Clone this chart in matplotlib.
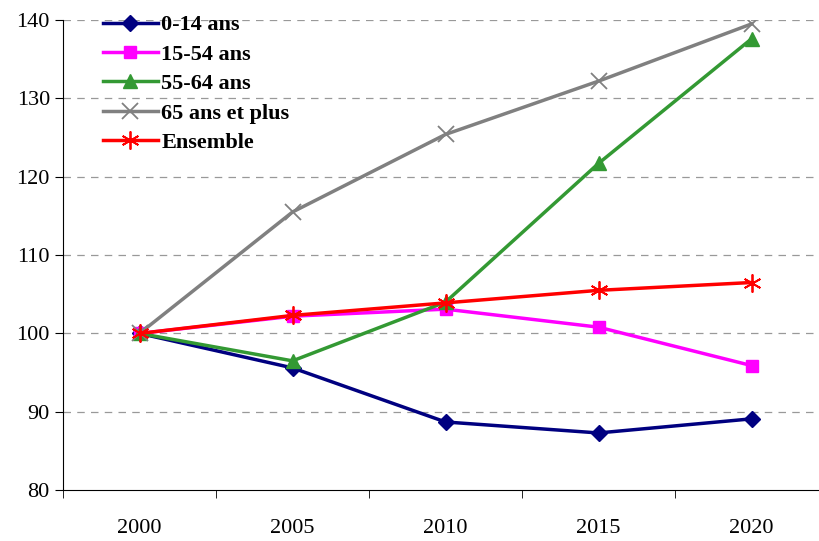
import numpy as np
import matplotlib.pyplot as plt

# Data
years = ['2000', '2005', '2010', '2015', '2020']
age_0_14 = [100, 95.6, 88.7, 87.3, 89.1]
age_15_54 = [100, 102.2, 103.1, 100.8, 95.9]
age_55_64 = [100, 96.5, 104.0, 121.7, 137.6]
age_65_plus = [100, 115.5, 125.4, 132.2, 139.5]
ensemble = [100, 102.3, 103.9, 105.5, 106.5]

plt.rcParams['font.family'] = ['Liberation Serif', 'DejaVu Serif']

fig = plt.figure(figsize=(8.19, 5.41), dpi=100)
ax = fig.add_axes([0.077, 0.094, 0.934, 0.869])

x = np.arange(len(years))
ax.plot(x, age_0_14, color='#000080', lw=2.5, marker='D', ms=8, label='0-14 ans')
ax.plot(x, age_15_54, color='#FF00FF', lw=2.5, marker='s', ms=9, label='15-54 ans')
ax.plot(x, age_55_64, color='#339933', lw=2.5, marker='^', ms=10, label='55-64 ans')
ax.plot(x, age_65_plus, color='#808080', lw=2.5, marker='x', ms=11, mew=1.3, label='65 ans et plus')
ax.plot(x, ensemble, color='#FF0000', lw=2.5, marker=(6, 2, 0), ms=13, mew=1.3, label='Ensemble')

ax.set_xlim(-0.5, 4.5)
ax.set_ylim(80, 140)
ax.set_yticks(np.arange(80, 141, 10))
ax.set_xticks(x)
ax.set_xticklabels(years)
ax.set_xticks(np.arange(-0.5, 4.6, 1), minor=True)
ax.tick_params(axis='x', which='major', length=0, pad=21, labelsize=16)
ax.tick_params(axis='x', which='minor', length=6, direction='out')
ax.tick_params(axis='y', length=6, direction='out', labelsize=16)

for v in range(90, 141, 10):
    ax.axhline(v, color='#999999', lw=0.9, ls=(0, (6, 5)), zorder=0)

ax.spines['top'].set_visible(False)
ax.spines['right'].set_visible(False)

leg = ax.legend(loc='upper left', bbox_to_anchor=(0.04, 1.03), frameon=False,
                prop={'weight': 'bold', 'size': 16}, handlelength=2.5,
                handletextpad=0.15, labelspacing=0.4, borderaxespad=0)

fig.savefig('out.png', dpi=100)
